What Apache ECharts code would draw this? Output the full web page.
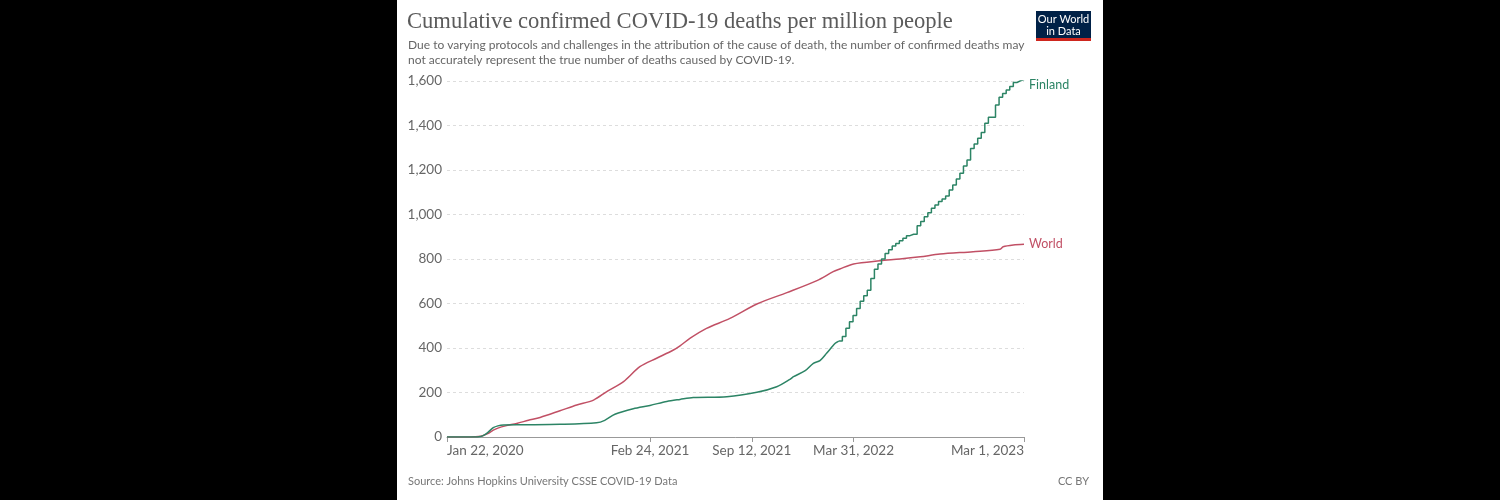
<!DOCTYPE html>
<html>
<head>
<meta charset="utf-8">
<script src="https://cdn.jsdelivr.net/npm/echarts@6/dist/echarts.min.js"></script>
<style>
html,body{margin:0;padding:0;background:#000;}
#wrap{position:absolute;left:397px;top:0;width:706px;height:500px;background:#fff;}
#chart{position:absolute;left:0;top:0;width:1500px;height:500px;}
</style>
</head>
<body>
<div id="wrap"></div>
<div id="chart"></div>
<script>
// Days since Jan 22, 2020
const tickDays = [0, 399, 599, 799, 1134];
const tickLabels = ["Jan 22, 2020", "Feb 24, 2021", "Sep 12, 2021", "Mar 31, 2022", "Mar 1, 2023"];

const worldDays = [0, 40, 55, 62, 70, 80, 91, 100, 115, 137, 160, 183, 222, 255, 288, 314, 347, 379, 412, 445, 458, 478, 510, 556, 609, 668, 727, 759, 772, 799, 851, 890, 930, 969, 1034, 1087, 1093, 1113, 1134];
const worldValues = [0, 0.1, 1, 2, 6, 15, 31, 40, 50, 61, 75, 88, 118, 144, 166, 204, 249, 316, 354, 391, 410, 444, 488, 533, 598, 649, 703, 743, 755, 778, 792, 800, 810, 822, 833, 844, 855, 863, 866];

const finlandDailyDays = [0, 40, 55, 63, 70, 80, 91, 100, 111, 150, 222, 294, 310, 330, 366, 399, 432, 458, 484, 550, 609, 648, 674, 681, 704, 720, 733, 746, 763, 770];
const finlandDailyValues = [0, 0, 0, 1, 5, 20, 42, 50, 54, 55, 57, 64, 75, 102, 127, 142, 160, 169, 177, 181, 201, 226, 259, 271, 298, 331, 343, 376, 421, 431];

const finlandWeeklyDays = [770, 777, 784, 791, 798, 805, 812, 819, 826, 833, 840, 847, 854, 861, 868, 875, 882, 889, 896, 903, 910, 917, 924, 931, 938, 945, 952, 959, 966, 973, 980, 987, 994, 1001, 1008, 1015, 1022, 1029, 1036, 1043, 1050, 1057, 1064, 1071, 1078, 1085, 1092, 1099, 1106, 1113, 1120, 1127, 1134];
const finlandWeeklyValues = [431, 452, 489, 518, 546, 578, 610, 635, 660, 712, 754, 777, 800, 825, 842, 858, 870, 882, 893, 905, 911, 911, 950, 968, 990, 1008, 1028, 1043, 1058, 1070, 1083, 1110, 1133, 1160, 1185, 1218, 1245, 1297, 1317, 1343, 1368, 1410, 1437, 1437, 1492, 1527, 1544, 1560, 1575, 1593, 1601, 1607, 1609];

const zip = (xs, ys) => xs.map((x, i) => [x, ys[i]]);
const GREEN = '#2c8465', RED = '#c15065';
const SANS = 'Lato, "Noto Sans", sans-serif';

const chart = echarts.init(document.getElementById('chart'), null, {renderer: 'canvas'});
chart.setOption({
  animation: false,
  backgroundColor: 'transparent',
  title: [
    {text: 'Cumulative confirmed COVID-19 deaths per million people', left: 407, top: 11, padding: 0,
     textStyle: {fontFamily: '"Liberation Serif", "DejaVu Serif", serif', fontWeight: 'normal', fontSize: 22.6, color: '#5b5b5b'}},
    {text: 'Due to varying protocols and challenges in the attribution of the cause of death, the number of confirmed deaths may\nnot accurately represent the true number of deaths caused by COVID-19.',
     left: 408, top: 38, padding: 0, textStyle: {fontFamily: SANS, fontWeight: 'normal', fontSize: 12, lineHeight: 14.5, color: '#666'}},
    {text: 'Source: Johns Hopkins University CSSE COVID-19 Data', left: 408, top: 476, padding: 0,
     textStyle: {fontFamily: SANS, fontWeight: 'normal', fontSize: 11, color: '#777'}},
    {text: 'CC BY', right: 1500 - 1089, top: 476, padding: 0,
     textStyle: {fontFamily: SANS, fontWeight: 'normal', fontSize: 11, color: '#777'}}
  ],
  graphic: [
    {type: 'rect', shape: {x: 1036, y: 11, width: 55, height: 27}, style: {fill: '#002147'}},
    {type: 'rect', shape: {x: 1036, y: 38, width: 55, height: 3}, style: {fill: '#ce261e'}},
    {type: 'text', x: 1063.5, y: 14, style: {text: 'Our World\nin Data', fill: '#fff', font: '11px Lato, sans-serif', align: 'center', lineHeight: 11.5}}
  ],
  grid: {left: 447, right: 1500 - 1024, top: 81, bottom: 63},
  xAxis: {
    type: 'value', min: 0, max: 1134,
    axisLine: {show: true, lineStyle: {color: '#999', width: 1}},
    axisTick: {show: true, customValues: tickDays, length: 5, lineStyle: {color: '#999'}},
    splitLine: {show: false},
    axisLabel: {
      customValues: tickDays,
      formatter: v => tickLabels[tickDays.indexOf(v)] || '',
      fontFamily: SANS, fontSize: 13.5, color: '#666', margin: 7,
      alignMinLabel: 'left', alignMaxLabel: 'right'
    }
  },
  yAxis: {
    type: 'value', min: 0, max: 1600, interval: 200,
    axisLine: {show: false}, axisTick: {show: false},
    splitLine: {show: true, lineStyle: {color: '#dddddd', type: [3, 3], width: 1}},
    axisLabel: {formatter: v => v.toLocaleString('en-US'), fontFamily: SANS, fontSize: 13.5, color: '#666', margin: 5}
  },
  series: [
    {name: 'World', type: 'line', data: zip(worldDays, worldValues), showSymbol: false,
     smooth: 0.3, lineStyle: {color: RED, width: 1.5}, itemStyle: {color: RED},
     endLabel: {show: true, formatter: '{a}', color: RED, fontFamily: SANS, fontSize: 12.5, distance: 5}},
    {name: 'Finland daily', type: 'line', data: zip(finlandDailyDays, finlandDailyValues), showSymbol: false,
     smooth: 0.3, lineStyle: {color: GREEN, width: 1.5}, itemStyle: {color: GREEN}},
    {name: 'Finland', type: 'line', data: zip(finlandWeeklyDays, finlandWeeklyValues), showSymbol: false,
     step: 'end', lineStyle: {color: GREEN, width: 1.5}, itemStyle: {color: GREEN},
     endLabel: {show: true, formatter: '{a}', color: GREEN, fontFamily: SANS, fontSize: 12.5, distance: 5, offset: [0, 6]}}
  ]
});
</script>
</body>
</html>
